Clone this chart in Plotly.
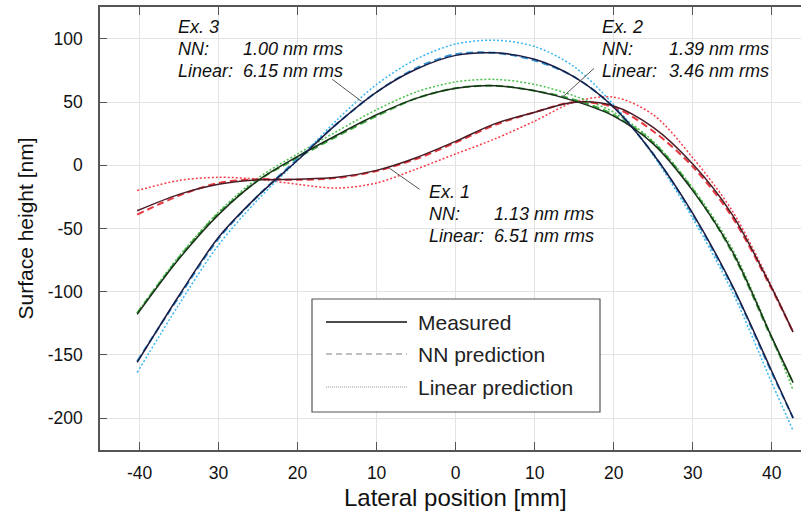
import plotly.graph_objects as go

# ---------------- data ----------------
x_pos = [-40.3, -35, -30, -25, -20, -15, -10, -5, 0, 5, 10, 15, 20, 25, 30, 35, 40, 42.7]

ex1_measured = [-36, -23, -15, -11.5, -11, -9.5, -4, 6, 19, 33, 42, 50, 47, 30, 1, -39, -97, -132]
ex1_nn       = [-39, -24, -14, -11, -11.5, -10, -4.5, 5, 18, 32, 42, 50, 46, 27, -1, -41, -98, -132]
ex1_linear   = [-20, -12, -9.5, -11, -15, -18, -14, -3, 9, 21, 35, 50, 54, 40, 6, -36, -96, -132]

ex2_measured = [-118, -74, -39, -12, 7, 24, 40, 53, 61, 63, 59, 51, 39, 17, -20, -68, -136, -172]
ex2_nn       = [-117, -73, -38, -12, 6, 23, 39, 53, 61, 63, 59, 52, 40, 18, -19, -69, -137, -172]
ex2_linear   = [-117, -72, -37, -10, 9, 27, 44, 58, 66, 68, 64, 55, 42, 19, -18, -66, -136, -178]

ex3_measured = [-156, -103, -57, -24, 4, 33, 58, 76, 87, 89, 84, 70, 46, 9, -38, -95, -163, -200]
ex3_nn       = [-155, -104, -58, -24, 5, 33, 58, 77, 88, 89, 83, 70, 46, 9, -39, -96, -164, -200]
ex3_linear   = [-164, -110, -63, -27, 4, 36, 64, 84, 96, 99, 94, 78, 48, 8, -42, -100, -172, -210]

x_tickvals = [-40, -30, -20, -10, 0, 10, 20, 30, 40]
x_ticktext = ["-40", "30", "20", "10", "0", "10", "20", "30", "40"]
y_tickvals = [-200, -150, -100, -50, 0, 50, 100]
y_ticktext = ["-200", "-150", "-100", "-50", "0", "50", "100"]

x_title = "Lateral position [mm]"
y_title = "Surface height [nm]"
legend_labels = ["Measured", "NN prediction", "Linear prediction"]

annot_blocks = [
    # (title, nn value, linear value, label px x, value px x, first line px y)
    ("Ex. 3", "1.00 nm rms", "6.15 nm rms", 176, 241, 27),
    ("Ex. 2", "1.39 nm rms", "3.46 nm rms", 600, 667, 27),
    ("Ex. 1", "1.13 nm rms", "6.51 nm rms", 427, 492, 192),
]
# leader lines in data coordinates
leaders = [
    (-15.6, 68.0, -11.9, 50.6),
    (17.5, 76.7, 13.5, 53.8),
    (-8.35, -2.4, -4.56, -19.0),
]

# ---------------- styling ----------------
FONT = "Liberation Sans, Arial, sans-serif"
series = [
    (ex1_measured, ex1_nn, ex1_linear, "#4a1c26", "#e8383f", "#f5404c"),
    (ex2_measured, ex2_nn, ex2_linear, "#1c301c", "#3aa83c", "#4cc04c"),
    (ex3_measured, ex3_nn, ex3_linear, "#1c1c42", "#2f90d2", "#3cb6f0"),
]
SM = 0.9

fig = go.Figure()
for meas, nn, lin, cm, cn, cl in series:
    fig.add_trace(go.Scatter(x=x_pos, y=lin, mode="lines", line=dict(color=cl, width=1.5, dash="2px,2px", shape="spline", smoothing=SM), showlegend=False, hoverinfo="skip"))
for meas, nn, lin, cm, cn, cl in series:
    fig.add_trace(go.Scatter(x=x_pos, y=nn, mode="lines", line=dict(color=cn, width=2, dash="7px,4px", shape="spline", smoothing=SM), showlegend=False, hoverinfo="skip"))
for meas, nn, lin, cm, cn, cl in series:
    fig.add_trace(go.Scatter(x=x_pos, y=meas, mode="lines", line=dict(color=cm, width=1.5, shape="spline", smoothing=SM), showlegend=False, hoverinfo="skip"))

W, H = 802, 514
L, R, T, B = 100, 1, 7, 64
PW, PH = W - L - R, H - T - B


def px(xp):
    return (xp - L) / PW


def py(yp):
    return (H - B - yp) / PH


annotations = []
for title, nnv, linv, xl, xv, y0 in annot_blocks:
    f = dict(family=FONT, size=18, color="#111")
    rows = [(title, None), ("NN:", nnv), ("Linear:", linv)]
    for i, (lab, val) in enumerate(rows):
        yy = y0 + 22 * i
        annotations.append(dict(xref="paper", yref="paper", x=px(xl), y=py(yy), text="<i>" + lab + "</i>",
                                showarrow=False, xanchor="left", yanchor="middle", font=f))
        if val:
            annotations.append(dict(xref="paper", yref="paper", x=px(xv), y=py(yy), text="<i>" + val + "</i>",
                                    showarrow=False, xanchor="left", yanchor="middle", font=f))

# x-axis title (centred as in the reference)
annotations.append(dict(xref="paper", yref="paper", x=px(455), y=py(497), text=x_title, showarrow=False,
                        xanchor="center", yanchor="middle", font=dict(family=FONT, size=24, color="#111")))

shapes = []
for x0, y0, x1, y1 in leaders:
    shapes.append(dict(type="line", xref="x", yref="y", x0=x0, y0=y0, x1=x1, y1=y1, line=dict(color="#555", width=1)))

# manual legend
shapes.append(dict(type="rect", xref="paper", yref="paper", x0=px(312), x1=px(600), y0=py(412), y1=py(299),
                   line=dict(color="#555", width=1.2), fillcolor="white"))
leg_styles = [dict(color="#111", width=1.3), dict(color="#aaa", width=1.5, dash="6px,4px"), dict(color="#999", width=1, dash="1px,1px")]
leg_y = [322, 354, 387]
for lab, st, yy in zip(legend_labels, leg_styles, leg_y):
    shapes.append(dict(type="line", xref="paper", yref="paper", x0=px(326), x1=px(407), y0=py(yy), y1=py(yy), line=st))
    annotations.append(dict(xref="paper", yref="paper", x=px(416), y=py(yy), text=lab, showarrow=False,
                            xanchor="left", yanchor="middle", font=dict(family=FONT, size=21, color="#222")))

fig.update_layout(
    width=W, height=H,
    margin=dict(l=L, r=R, t=T, b=B),
    paper_bgcolor="white", plot_bgcolor="white",
    font=dict(family=FONT, color="#111"),
    annotations=annotations,
    shapes=shapes,
    showlegend=False,
)
fig.update_xaxes(
    range=[-45, 43.7], tickvals=x_tickvals, ticktext=x_ticktext,
    showgrid=True, gridcolor="#e3e3e3", gridwidth=1, zeroline=False,
    showline=True, linecolor="#555", linewidth=1.5, mirror="ticks",
    ticks="inside", ticklen=8, tickcolor="#555", tickwidth=1.2,
    tickfont=dict(family=FONT, size=17.5, color="#111"), ticklabelstandoff=6,
)
fig.update_yaxes(
    range=[-225.3, 125.3], tickvals=y_tickvals, ticktext=y_ticktext,
    showgrid=True, gridcolor="#e3e3e3", gridwidth=1, zeroline=False,
    showline=True, linecolor="#555", linewidth=1.5, mirror=False,
    ticks="inside", ticklen=7, tickcolor="#555", tickwidth=1.2,
    tickfont=dict(family=FONT, size=17.5, color="#111"), ticklabelstandoff=12,
    title=dict(text=y_title, font=dict(family=FONT, size=21, color="#111"), standoff=8),
)

fig.write_html("out.html")
